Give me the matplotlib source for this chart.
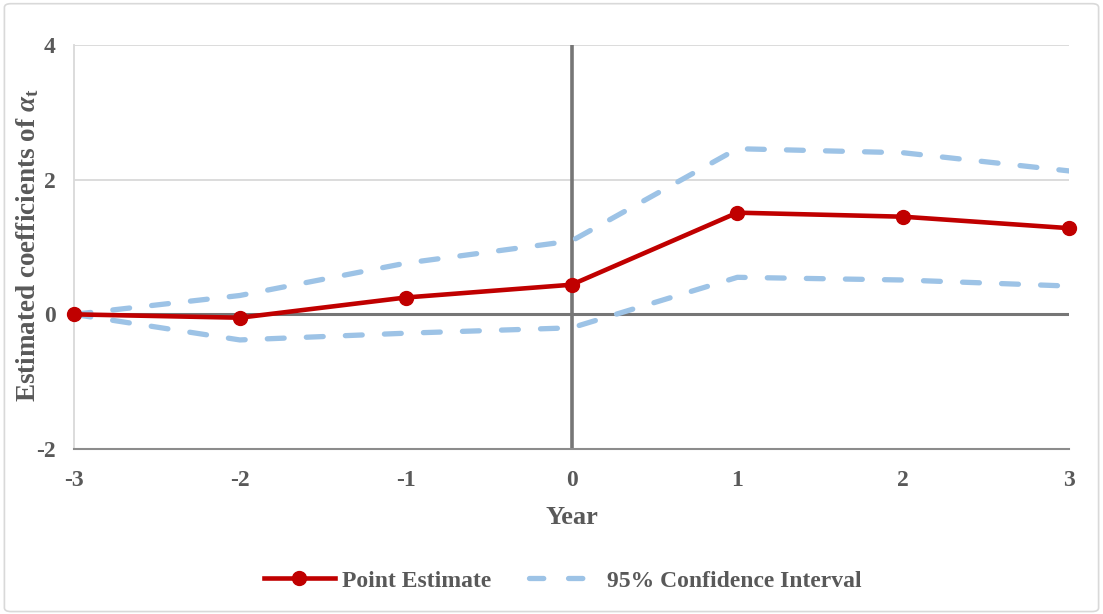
import matplotlib.pyplot as plt
from matplotlib.patches import FancyBboxPatch
from matplotlib.lines import Line2D

years = [-3, -2, -1, 0, 1, 2, 3]
point_est = [0.0, -0.05, 0.25, 0.44, 1.51, 1.45, 1.28]
ci_upper = [0.0, 0.28, 0.76, 1.09, 2.46, 2.40, 2.13]
ci_lower = [0.0, -0.38, -0.28, -0.20, 0.55, 0.51, 0.42]
yticks = [-2, 0, 2, 4]

txt = "#595959"
red = "#C00000"
blue = "#9DC3E6"

plt.rcParams["font.family"] = ["Liberation Serif"]
plt.rcParams["font.weight"] = "bold"
plt.rcParams["axes.unicode_minus"] = False
plt.rcParams["mathtext.fontset"] = "custom"
plt.rcParams["mathtext.rm"] = "Liberation Serif:bold"
plt.rcParams["mathtext.it"] = "Liberation Serif:italic:bold"
plt.rcParams["mathtext.bf"] = "Liberation Serif:bold"

fig = plt.figure(figsize=(11.03, 6.14), dpi=100)
ax = fig.add_axes([0.0671, 0.2687, 0.9021, 0.658])

# outer chart frame
fig.patches.append(FancyBboxPatch((0.004, 0.004), 0.992, 0.99, boxstyle="round,pad=0,rounding_size=0.006",
                                  transform=fig.transFigure, fill=False, ec="#D9D9D9", lw=1.2))

ax.set_xlim(-3, 3)
ax.set_ylim(-2, 4)
for y in [2, 4]:
    ax.axhline(y, color="#D9D9D9", lw=1.3, zorder=0)
ax.axhline(0, color="#767676", lw=2.2, zorder=1)
ax.axvline(0, color="#767676", lw=2.6, zorder=1)

ax.plot(years, ci_upper, color=blue, lw=3.8, dashes=(3.2, 4.2), dash_capstyle="round", zorder=2)
ax.plot(years, ci_lower, color=blue, lw=3.8, dashes=(3.2, 4.2), dash_capstyle="round", zorder=2)
ax.plot(years, point_est, color=red, lw=3.3, marker="o", ms=10, zorder=3, clip_on=False)

for s in ["top", "right"]:
    ax.spines[s].set_visible(False)
ax.spines["left"].set_color("#D9D9D9")
ax.spines["left"].set_linewidth(1.3)
ax.spines["bottom"].set_color("#8C8C8C")
ax.spines["bottom"].set_linewidth(1.5)

ax.set_xticks(years)
ax.set_yticks(yticks)
ax.tick_params(length=0, labelsize=17, labelcolor=txt)
ax.tick_params(axis="x", pad=15)
ax.tick_params(axis="y", pad=13)
ax.set_xlabel("Year", fontsize=19, color=txt, fontweight="bold", labelpad=11)
ax.set_ylabel(r"Estimated coefficients of $\alpha_{\mathrm{t}}$", fontsize=19.5, color=txt,
              fontweight="bold")
ax.yaxis.set_label_coords(-0.033, 0.505)

handles = [Line2D([], [], color=red, lw=3.3, marker="o", ms=10),
           Line2D([], [], color=blue, lw=3.8, dashes=(2.7, 4.7), dash_capstyle="round")]
fig.legend(handles, ["Point Estimate", "95% Confidence Interval"], loc="center",
           bbox_to_anchor=(0.51, 0.054), ncol=2, frameon=False, fontsize=17,
           labelcolor=txt, handlelength=3.0, columnspacing=1.6, handletextpad=0.3)

fig.savefig("out.png", dpi=100)
